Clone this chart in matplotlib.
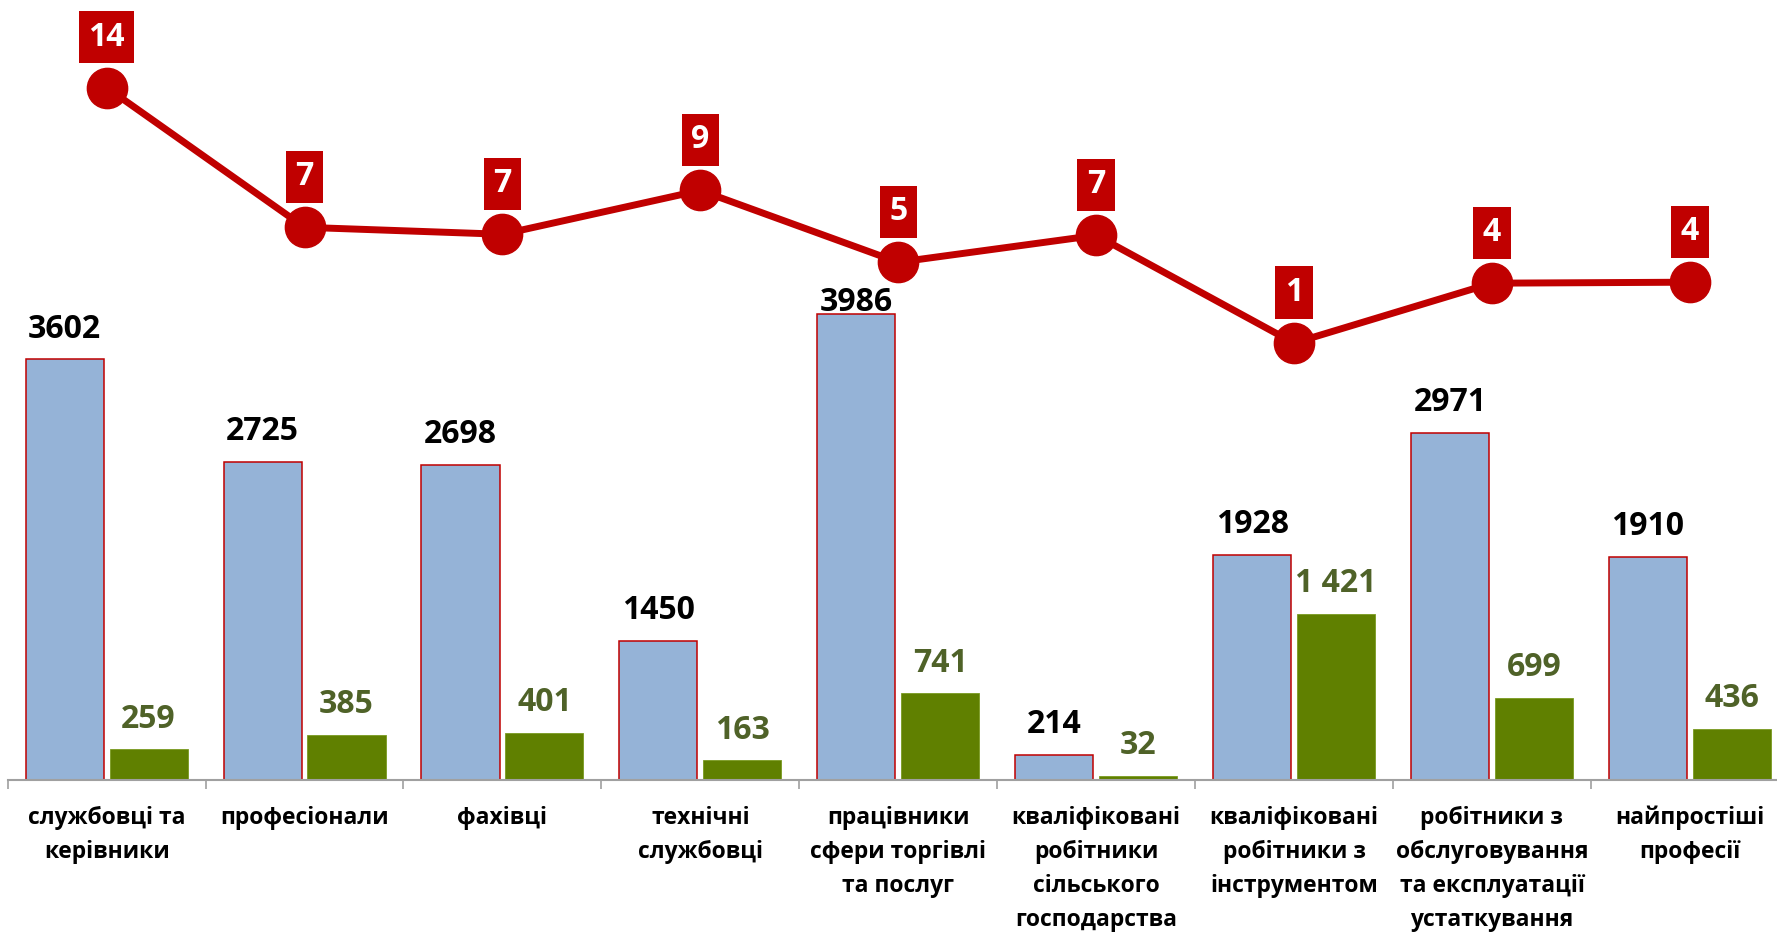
import matplotlib
matplotlib.use("Agg")
import matplotlib.pyplot as plt
import numpy as np

plt.rcParams["font.family"] = ["Open Sans", "DejaVu Sans"]

# categories (occupational groups)
categories = [
    "службовці та\nкерівники",
    "професіонали",
    "фахівці",
    "технічні\nслужбовці",
    "працівники\nсфери торгівлі\nта послуг",
    "кваліфіковані\nробітники\nсільського\nгосподарства",
    "кваліфіковані\nробітники з\nінструментом",
    "робітники з\nобслуговування\nта експлуатації\nустаткування",
    "найпростіші\nпрофесії",
]
# bar heights as drawn in the source chart, and the labels printed on them
blue_vals = [3602, 2725, 2698, 1190, 3986, 214, 1928, 2971, 1910]
blue_labels = ["3602", "2725", "2698", "1450", "3986", "214", "1928", "2971", "1910"]
green_vals = [259, 385, 401, 163, 741, 32, 1421, 699, 436]
green_labels = ["259", "385", "401", "163", "741", "32", "1 421", "699", "436"]
line_vals = [14.0, 7.0, 6.65, 8.85, 5.25, 6.6, 1.2, 4.2, 4.25]

BLUE = "#95B3D7"; RED = "#C00000"; GREEN = "#608000"; GREEN_TXT = "#4F6228"
AXIS = "#A0A0A0"

W, H = 1777, 933
fig = plt.figure(figsize=(W / 100, H / 100), dpi=100)
base = 779.5
left = 7.7
step = 197.9
ax = fig.add_axes([left / W, (H - base) / H, 9 * step / W, base / H])

x = np.arange(len(categories))
bw, off = 0.395, 0.212
ax.bar(x - off, blue_vals, bw, color=BLUE, edgecolor=RED, linewidth=1.1, zorder=2)
ax.bar(x + off, green_vals, bw, color=GREEN, edgecolor="#7A9A20", linewidth=0.6, zorder=2)
ax.set_xlim(-0.5, len(categories) - 0.5)
ax.set_ylim(0, base / 0.11666)

# the label over the tallest bar sits lower, tucked under the line marker
nudge = {4: -13}
for i, (xi, v, t) in enumerate(zip(x, blue_vals, blue_labels)):
    ax.annotate(t, (xi - off, v), xytext=(0, 15.5 + nudge.get(i, 0)), textcoords="offset points",
                ha="center", va="baseline", fontsize=23, fontweight="bold", color="black")
for xi, v, t in zip(x, green_vals, green_labels):
    ax.annotate(t, (xi + off, v), xytext=(0, 15.5), textcoords="offset points",
                ha="center", va="baseline", fontsize=23, fontweight="bold", color=GREEN_TXT)

for s in ("left", "right", "top"):
    ax.spines[s].set_visible(False)
ax.spines["bottom"].set_color(AXIS)
ax.spines["bottom"].set_linewidth(1.5)
ax.set_yticks([])
ax.set_xticks(x)
ax.set_xticklabels(categories, fontsize=16.5, fontweight="bold", linespacing=1.56)
ax.set_xticks(np.arange(-0.5, len(categories), 1), minor=True)
ax.tick_params(axis="x", which="major", length=0, pad=19)
ax.tick_params(axis="x", which="minor", length=6.5, width=1.2, color=AXIS)

ax2 = ax.twinx()
ax2.plot(x, line_vals, color=RED, lw=5, marker="o", ms=29, zorder=3)
ax2.set_ylim(-20.67, 18.39)
ax2.set_yticks([])
for s in ax2.spines.values():
    s.set_visible(False)
for xi, v in zip(x, line_vals):
    ax2.annotate("{:.0f}".format(v), (xi, v), xytext=(0, 36.4), textcoords="offset points",
                 ha="center", va="center", fontsize=23, fontweight="bold", color="white",
                 bbox=dict(boxstyle="square,pad=0.3", fc=RED, ec="none"))

fig.savefig("out.png", dpi=100, facecolor="white")
